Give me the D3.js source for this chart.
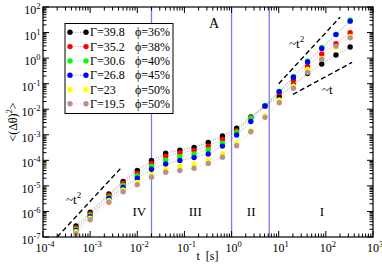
<!DOCTYPE html>
<html>
<head>
<meta charset="utf-8">
<script src="https://cdn.jsdelivr.net/npm/d3@7"></script>
<style>
  body { margin: 0; background: #fff; }
  text { font-family: "Liberation Serif", "DejaVu Serif", serif; }
</style>
</head>
<body>
<svg id="chart" width="382" height="269"></svg>
<script>
// time points [s]
const times = [0.0005, 0.001, 0.0025, 0.005, 0.01, 0.02, 0.04, 0.08, 0.16, 0.32,
               0.64, 1.28, 2.56, 5.12, 10.24, 20.48, 40.96, 81.92, 163.84, 327.68];

// mean square angular displacement, one array per Gamma
const msd398 = [2.7e-7, 9.3e-7, 4.8e-6, 1.5e-5, 4.0e-5, 9.8e-5, 1.9e-4, 2.5e-4, 3.2e-4, 5.0e-4,
                8.9e-4, 1.8e-3, 5.0e-3, 0.0135, 0.031, 0.091, 0.25, 0.59, 1.32, 2.72];
const msd352 = [2.3e-7, 8.1e-7, 4.3e-6, 1.26e-5, 3.1e-5, 7.6e-5, 1.45e-4, 1.95e-4, 2.45e-4, 3.6e-4,
                6.6e-4, 1.45e-3, 4.6e-3, 0.0135, 0.044, 0.135, 0.47, 1.45, 3.7, 9.8];
const msd306 = [2.0e-7, 7.1e-7, 3.7e-6, 1.05e-5, 2.45e-5, 5.9e-5, 1.02e-4, 1.38e-4, 1.78e-4, 2.6e-4,
                4.7e-4, 1.26e-3, 4.6e-3, 0.014, 0.051, 0.19, 0.78, 2.6, 8.7, 31];
const msd268 = [1.8e-7, 6.2e-7, 3.2e-6, 8.7e-6, 2.0e-5, 4.5e-5, 7.2e-5, 9.8e-5, 1.29e-4, 1.78e-4,
                3.6e-4, 9.8e-4, 3.3e-3, 0.0135, 0.049, 0.178, 0.71, 2.4, 8.3, 28];
const msd230 = [1.6e-7, 5.4e-7, 2.7e-6, 6.9e-6, 1.35e-5, 2.7e-5, 4.5e-5, 6.0e-5, 7.2e-5, 1.02e-4,
                1.78e-4, 4.7e-4, 1.45e-3, 5.5e-3, 0.023, 0.081, 0.36, 0.98, 2.72, 7.1];
const msd195 = [1.35e-7, 4.7e-7, 2.3e-6, 5.9e-6, 1.12e-5, 2.2e-5, 3.4e-5, 4.0e-5, 4.9e-5, 7.6e-5,
                1.32e-4, 3.7e-4, 1.32e-3, 4.8e-3, 0.018, 0.066, 0.275, 0.89, 2.95, 6.2];

const gammas = ["39.8", "35.2", "30.6", "26.8", "23", "19.5"];
const phis = ["36%", "38%", "40%", "45%", "50%", "50%"];
const colors = ["#000000", "#ff0000", "#00ff00", "#0000ff", "#ffff00", "#bc8f8f"];

// regime boundaries [s] and names
const boundaries = [0.02, 1, 6.3];
const regimes = ["IV", "III", "II", "I"];

// power law guides (pairs of [t, msd])
const guideLowT2 = [[2e-4, 1e-7], [4.5e-3, 5e-5]];
const guideHighT2 = [[10, 0.1], [200, 40]];
const guideT1 = [[20, 0.038], [360, 0.68]];

const xTicks = [-4, -3, -2, -1, 0, 1, 2, 3];
const yTicks = [-7, -6, -5, -4, -3, -2, -1, 0, 1, 2];

// plot frame
const pLeft = 43, pRight = 373, pTop = 7, pBottom = 237;

const svg = d3.select("#chart");

const x = d3.scaleLog().domain([1e-4, 1e3]).range([pLeft, pRight]);
const y = d3.scaleLog().domain([1e-7, 1e2]).range([pBottom, pTop]);

// regime boundaries
svg.append("g")
  .selectAll("line")
  .data(boundaries)
  .join("line")
    .attr("x1", d => x(d)).attr("x2", d => x(d))
    .attr("y1", pTop).attr("y2", pBottom)
    .attr("stroke", "#7b7bf0")
    .attr("stroke-width", 1.3);

// regime labels
const regimeAt = [0.011, 0.17, 2.6, 83];
svg.append("g")
  .selectAll("text")
  .data(regimes)
  .join("text")
    .attr("x", (d, i) => x(regimeAt[i]))
    .attr("y", 216)
    .attr("text-anchor", "middle")
    .attr("font-size", 13)
    .text(d => d);

svg.append("text")
  .attr("x", 214).attr("y", 28)
  .attr("text-anchor", "middle")
  .attr("font-size", 14)
  .text("A");

// guides
const line = d3.line().x(d => x(d[0])).y(d => y(d[1]));
svg.append("g")
  .attr("fill", "none")
  .attr("stroke", "#000")
  .attr("stroke-width", 1.4)
  .attr("stroke-dasharray", "5,3")
  .selectAll("path")
  .data([guideLowT2, guideHighT2, guideT1])
  .join("path")
    .attr("d", line);

function powerLabel(px, py, exp) {
  const t = svg.append("text")
    .attr("x", px).attr("y", py)
    .attr("font-size", 13);
  t.append("tspan").text("~t");
  if (exp) {
    t.append("tspan").attr("dy", -6).attr("font-size", 9).text(exp);
  }
}
powerLabel(66, 203.5, "2");
powerLabel(289, 48, "2");
powerLabel(322, 94, null);

// data series
const series = [msd398, msd352, msd306, msd268, msd230, msd195];
const seriesLine = d3.line().x((d, i) => x(times[i])).y(d => y(d));

series.forEach((vals, k) => {
  const g = svg.append("g");
  g.append("path")
    .attr("d", seriesLine(vals))
    .attr("fill", "none")
    .attr("stroke", colors[k])
    .attr("stroke-opacity", 0.5)
    .attr("stroke-width", 0.8)
    .attr("stroke-dasharray", "1,1.5");
  g.selectAll("circle")
    .data(vals)
    .join("circle")
      .attr("cx", (d, i) => x(times[i]))
      .attr("cy", d => y(d))
      .attr("r", 2.7)
      .attr("fill", colors[k]);
});

// frame
svg.append("rect")
  .attr("x", pLeft).attr("y", pTop)
  .attr("width", pRight - pLeft).attr("height", pBottom - pTop)
  .attr("fill", "none")
  .attr("stroke", "#000")
  .attr("stroke-width", 1.2);

// ticks, inward on all four sides
const minor = [2, 3, 4, 5, 6, 7, 8, 9];
const ticksG = svg.append("g").attr("stroke", "#000").attr("stroke-width", 1);

xTicks.forEach(e => {
  const v = Math.pow(10, e);
  const xs = [[v, 6]];
  if (e < 3) minor.forEach(m => xs.push([m * v, 3.5]));
  xs.forEach(([t, len]) => {
    ticksG.append("line").attr("x1", x(t)).attr("x2", x(t)).attr("y1", pBottom).attr("y2", pBottom - len);
    ticksG.append("line").attr("x1", x(t)).attr("x2", x(t)).attr("y1", pTop).attr("y2", pTop + len);
  });
});
yTicks.forEach(e => {
  const v = Math.pow(10, e);
  const ys = [[v, 6]];
  if (e < 2) minor.forEach(m => ys.push([m * v, 3.5]));
  ys.forEach(([t, len]) => {
    ticksG.append("line").attr("y1", y(t)).attr("y2", y(t)).attr("x1", pLeft).attr("x2", pLeft + len);
    ticksG.append("line").attr("y1", y(t)).attr("y2", y(t)).attr("x1", pRight).attr("x2", pRight - len);
  });
});

// tick labels
svg.append("g")
  .selectAll("text")
  .data(xTicks)
  .join("text")
    .attr("x", d => x(Math.pow(10, d)) + 2)
    .attr("y", 252)
    .attr("text-anchor", "middle")
    .attr("font-size", 12)
    .each(function(d) {
      const t = d3.select(this);
      t.append("tspan").text("10");
      t.append("tspan").attr("dy", -5).attr("font-size", 8.5).text(d < 0 ? "-" + (-d) : d);
    });

svg.append("g")
  .selectAll("text")
  .data(yTicks)
  .join("text")
    .attr("x", 40.5)
    .attr("y", d => y(Math.pow(10, d)) + 7)
    .attr("text-anchor", "end")
    .attr("font-size", 12)
    .each(function(d) {
      const t = d3.select(this);
      t.append("tspan").text("10");
      t.append("tspan").attr("dy", -5).attr("font-size", 8.5).text(d < 0 ? "-" + (-d) : d);
    });

// axis titles
svg.append("text")
  .attr("x", 207.5).attr("y", 260)
  .attr("text-anchor", "middle")
  .attr("font-size", 12)
  .style("white-space", "pre")
  .text("t  [s]");

const yl = svg.append("text")
  .attr("transform", "translate(17,122) rotate(-90)")
  .attr("text-anchor", "middle")
  .attr("font-size", 12);
yl.append("tspan").text("<(Δθ)");
yl.append("tspan").attr("dy", -5).attr("font-size", 8.5).text("2");
yl.append("tspan").attr("dy", 5).text(">");

// legend
const legend = svg.append("g");
legend.append("rect")
  .attr("x", 65).attr("y", 23.5)
  .attr("width", 108).attr("height", 90)
  .attr("fill", "#fff")
  .attr("stroke", "#000")
  .attr("stroke-width", 1);

const rows = legend.selectAll("g.row")
  .data(gammas)
  .join("g")
    .attr("class", "row")
    .attr("transform", (d, i) => `translate(0,${32.3 + i * 14.3})`);

rows.append("line")
  .attr("x1", 70).attr("x2", 86)
  .attr("stroke", (d, i) => colors[i])
  .attr("stroke-opacity", 0.5)
  .attr("stroke-width", 0.8)
  .attr("stroke-dasharray", "1,1.5");
rows.append("circle").attr("cx", 70).attr("r", 2.7).attr("fill", (d, i) => colors[i]);
rows.append("circle").attr("cx", 86).attr("r", 2.7).attr("fill", (d, i) => colors[i]);
rows.append("text")
  .attr("x", 90).attr("y", 4)
  .attr("font-size", 12)
  .text(d => "Γ=" + d);
rows.append("text")
  .attr("x", 135).attr("y", 4)
  .attr("font-size", 12)
  .text((d, i) => "ϕ=" + phis[i]);
</script>
</body>
</html>
